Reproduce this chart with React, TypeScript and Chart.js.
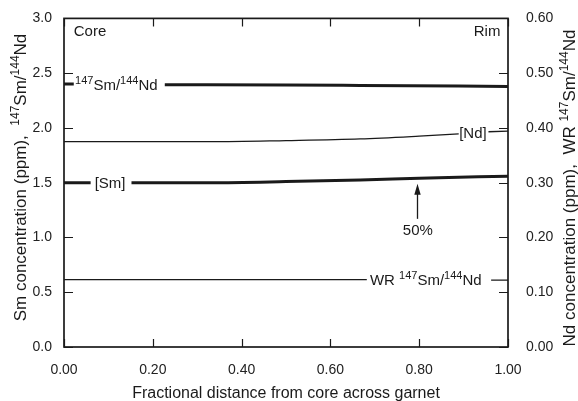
import React, { useEffect, useRef } from "react";
import { Chart, registerables } from "chart.js";

Chart.register(...registerables);

// ---- data ----
const xTickValues = [0, 0.2, 0.4, 0.6, 0.8, 1.0];

// 147Sm/144Nd (garnet), left axis
const ratioX = [0, 0.022, 0.1, 0.227, 0.5, 0.667, 1.0];
const ratioY = [2.4, 2.4, null, 2.395, 2.392, 2.388, 2.379];

// [Sm] ppm, left axis
const smX = [0, 0.06, 0.1, 0.152, 0.33, 0.5, 0.667, 0.8, 1.0];
const smY = [1.5, 1.5, null, 1.5, 1.5, 1.51, 1.525, 1.54, 1.56];

// [Nd] ppm, right axis
const ndX = [0, 0.33, 0.5, 0.667, 0.8, 0.889, 0.92, 0.956, 1.0];
const ndY = [0.375, 0.375, 0.377, 0.38, 0.385, 0.389, null, 0.393, 0.394];

// WR 147Sm/144Nd, right axis
const wrX = [0, 0.5, 0.682, 0.8, 0.962, 1.0];
const wrY = [0.123, 0.123, 0.123, null, 0.122, 0.122];

const FONT = '"Liberation Sans", Arial, Helvetica, sans-serif';
const INK = "#1a1a1a";

type Seg = { t: string; s?: boolean };

function richWidth(ctx: CanvasRenderingContext2D, segs: Seg[], size: number) {
  let w = 0;
  for (const g of segs) {
    ctx.font = `${g.s ? Math.round(size * 0.72) : size}px ${FONT}`;
    w += ctx.measureText(g.t).width;
  }
  return w;
}

function drawRich(
  ctx: CanvasRenderingContext2D,
  segs: Seg[],
  x: number,
  baseline: number,
  align: "left" | "center" | "right",
  size: number
) {
  const w = richWidth(ctx, segs, size);
  let cx = align === "left" ? x : align === "center" ? x - w / 2 : x - w;
  ctx.textAlign = "left";
  ctx.textBaseline = "alphabetic";
  for (const g of segs) {
    ctx.font = `${g.s ? Math.round(size * 0.72) : size}px ${FONT}`;
    ctx.fillText(g.t, cx, g.s ? baseline - size * 0.4 : baseline);
    cx += ctx.measureText(g.t).width;
  }
}

const annotPlugin = {
  id: "annot",
  afterDatasetsDraw(chart: any) {
    const { ctx, chartArea: a, scales } = chart;
    const sx = scales.x;
    const yl = scales.y;
    const yr = scales.y2;
    ctx.save();
    ctx.strokeStyle = INK;
    ctx.fillStyle = INK;

    // frame
    ctx.lineWidth = 1.7;
    ctx.strokeRect(a.left, a.top, a.right - a.left, a.bottom - a.top);

    // inward tick marks
    ctx.lineWidth = 1.2;
    ctx.beginPath();
    for (const t of sx.ticks) {
      const px = Math.round(sx.getPixelForValue(t.value)) + 0.5;
      ctx.moveTo(px, a.bottom);
      ctx.lineTo(px, a.bottom - 8);
      ctx.moveTo(px, a.top);
      ctx.lineTo(px, a.top + 8);
    }
    for (const t of yl.ticks) {
      const py = Math.round(yl.getPixelForValue(t.value)) + 0.5;
      ctx.moveTo(a.left, py);
      ctx.lineTo(a.left + 9, py);
    }
    for (const t of yr.ticks) {
      const py = Math.round(yr.getPixelForValue(t.value)) + 0.5;
      ctx.moveTo(a.right, py);
      ctx.lineTo(a.right - 9, py);
    }
    ctx.stroke();

    const L = 15;
    const mid = L * 0.36;
    const px = (v: number) => sx.getPixelForValue(v);
    const pl = (v: number) => yl.getPixelForValue(v);
    const pr = (v: number) => yr.getPixelForValue(v);

    drawRich(ctx, [{ t: "Core" }], px(0.022), pl(2.888) + mid, "left", L);
    drawRich(ctx, [{ t: "Rim" }], px(0.983), pl(2.888) + mid, "right", L);
    drawRich(
      ctx,
      [{ t: "147", s: true }, { t: "Sm/" }, { t: "144", s: true }, { t: "Nd" }],
      px(0.025),
      pl(2.4) + mid,
      "left",
      L
    );
    drawRich(ctx, [{ t: "[Sm]" }], px(0.069), pl(1.5) + mid, "left", L);
    drawRich(ctx, [{ t: "[Nd]" }], px(0.89), pr(0.392) + mid, "left", L);
    drawRich(
      ctx,
      [{ t: "WR " }, { t: "147", s: true }, { t: "Sm/" }, { t: "144", s: true }, { t: "Nd" }],
      px(0.689),
      pr(0.123) + mid,
      "left",
      L
    );
    drawRich(ctx, [{ t: "50%" }], px(0.797), pl(1.07) + mid, "center", L);

    // arrow
    const ax = Math.round(px(0.795)) + 0.5;
    const y0 = pl(1.17);
    const y1 = pl(1.49);
    ctx.lineWidth = 1.3;
    ctx.beginPath();
    ctx.moveTo(ax, y0);
    ctx.lineTo(ax, y1 + 8);
    ctx.stroke();
    ctx.beginPath();
    ctx.moveTo(ax, y1);
    ctx.lineTo(ax - 3.2, y1 + 11);
    ctx.lineTo(ax + 3.2, y1 + 11);
    ctx.closePath();
    ctx.fill();

    // axis titles
    drawRich(
      ctx,
      [{ t: "Fractional distance from core across garnet" }],
      (a.left + a.right) / 2,
      398,
      "center",
      16
    );
    const T = 17;
    ctx.save();
    ctx.translate(25.5, 177.5);
    ctx.rotate(-Math.PI / 2);
    drawRich(
      ctx,
      [
        { t: "Sm concentration (ppm),  " },
        { t: "147", s: true },
        { t: "Sm/" },
        { t: "144", s: true },
        { t: "Nd" },
      ],
      0,
      0,
      "center",
      T
    );
    ctx.restore();
    ctx.save();
    ctx.translate(574.5, 188);
    ctx.rotate(-Math.PI / 2);
    drawRich(
      ctx,
      [
        { t: "Nd concentration (ppm),  WR " },
        { t: "147", s: true },
        { t: "Sm/" },
        { t: "144", s: true },
        { t: "Nd" },
      ],
      0,
      0,
      "center",
      T
    );
    ctx.restore();

    ctx.restore();
  },
};

function pts(xs: number[], ys: (number | null)[]) {
  return xs.map((x, i) => ({ x, y: ys[i] }));
}

export default function App() {
  const ref = useRef<HTMLCanvasElement | null>(null);

  useEffect(() => {
    document.body.style.margin = "0";
    const canvas = ref.current;
    if (!canvas) return;
    const tickFont = { family: FONT, size: 14 };
    const line = (data: any, width: number, axis: string) => ({
      data,
      yAxisID: axis,
      borderColor: INK,
      borderWidth: width,
      pointRadius: 0,
      fill: false,
      spanGaps: false,
      cubicInterpolationMode: "monotone" as const,
    });
    const chart = new Chart(canvas, {
      type: "line",
      data: {
        datasets: [
          line(pts(ratioX, ratioY), 3, "y"),
          line(pts(smX, smY), 3, "y"),
          line(pts(ndX, ndY), 1.3, "y2"),
          line(pts(wrX, wrY), 1.3, "y2"),
        ],
      },
      options: {
        responsive: false,
        animation: false,
        layout: { padding: { top: 17, left: 0, right: 0, bottom: 0 } },
        plugins: { legend: { display: false }, tooltip: { enabled: false } },
        scales: {
          x: {
            type: "linear",
            min: 0,
            max: 1,
            afterBuildTicks: (s: any) => {
              s.ticks = xTickValues.map((v) => ({ value: v }));
            },
            ticks: {
              callback: (v: any) => Number(v).toFixed(2),
              font: tickFont,
              color: "#222",
              padding: 7,
              maxRotation: 0,
            },
            grid: { display: false },
            border: { display: false },
            afterFit: (s: any) => {
              s.height = 54;
            },
          },
          y: {
            position: "left",
            min: 0,
            max: 3,
            ticks: {
              stepSize: 0.5,
              callback: (v: any) => Number(v).toFixed(1),
              font: tickFont,
              color: "#222",
              padding: 4,
            },
            grid: { display: false },
            border: { display: false },
            afterFit: (s: any) => {
              s.width = 64;
            },
          },
          y2: {
            position: "right",
            min: 0,
            max: 0.6,
            ticks: {
              stepSize: 0.1,
              callback: (v: any) => Number(v).toFixed(2),
              font: tickFont,
              color: "#222",
              padding: 10,
            },
            grid: { display: false },
            border: { display: false },
            afterFit: (s: any) => {
              s.width = 70;
            },
          },
        },
      },
      plugins: [annotPlugin],
    });
    return () => chart.destroy();
  }, []);

  return (
    <div style={{ width: 578, height: 401, background: "#fff" }}>
      <canvas ref={ref} width={578} height={401} style={{ display: "block" }} />
    </div>
  );
}
